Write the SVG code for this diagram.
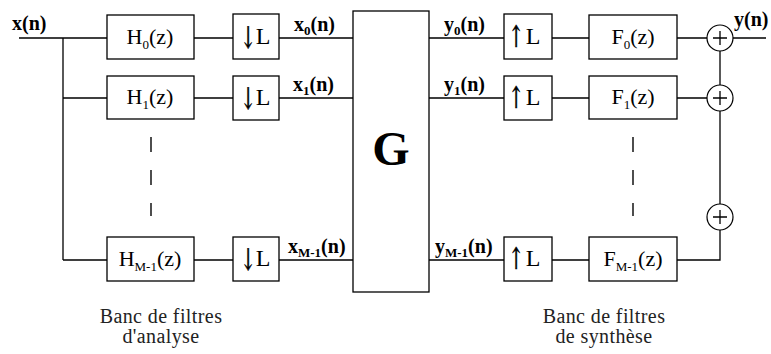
<svg xmlns="http://www.w3.org/2000/svg" width="771" height="354" viewBox="0 0 771 354">
<style>
.box{fill:#fff;stroke:#000;stroke-width:1.3}
.ln{fill:none;stroke:#000;stroke-width:1.3}
.dash{fill:none;stroke:#222;stroke-width:1.6;stroke-dasharray:15 18}
.sum{fill:#fff;stroke:#000;stroke-width:1.2}
.t{font-size:22px;fill:#000}
.L{font-size:24px;fill:#000}
.b{font-size:20px;font-weight:bold;fill:#000}
.s{font-size:13px}
.cap{font-size:20px;fill:#222;letter-spacing:0.4px}
.g{font-size:48px;font-weight:bold}
.arr{font-family:'DejaVu Serif','DejaVu Sans',serif;font-size:30px;fill:#000;stroke:#000;stroke-width:0.6}
</style>
<rect width="771" height="354" fill="#fff"/>
<g id="connectors">
<path class="ln" d="M19 38H107M63 38V260M63 98H107M63 260H107"/>
<path class="ln" d="M194 38H233M194 98H233M194 260H233"/>
<path class="ln" d="M279 38H353M279 98H353M279 260H353"/>
<path class="ln" d="M429 38H504M429 98H504M429 260H504"/>
<path class="ln" d="M552 38H589M552 98H589M552 260H589"/>
<path class="ln" d="M677 38H707M677 98H707M677 260H720V230"/>
<path class="ln" d="M720 51V85M720 111V204M733 38H766"/>
<path class="dash" d="M151 137V216"/>
<path class="dash" d="M633 137V216"/>
</g>
<g font-family="Liberation Serif, Times New Roman, serif">
<g id="label_x"><text class="b" x="12" y="30">x(n)</text></g>
<g id="H0"><rect class="box" x="107" y="15" width="87" height="44"/><text class="t" x="150" y="44" text-anchor="middle">H<tspan class="s" dy="5">0</tspan><tspan dy="-5">(z)</tspan></text></g>
<g id="H1"><rect class="box" x="107" y="76" width="87" height="43"/><text class="t" x="150" y="104" text-anchor="middle">H<tspan class="s" dy="5">1</tspan><tspan dy="-5">(z)</tspan></text></g>
<g id="HM1"><rect class="box" x="107" y="237" width="87" height="44"/><text class="t" x="150" y="266" text-anchor="middle">H<tspan class="s" dy="5">M-1</tspan><tspan dy="-5">(z)</tspan></text></g>
<g id="D0"><rect class="box" x="233" y="14" width="46" height="45"/><text class="arr" transform="translate(248,48) scale(0.6,1)" text-anchor="middle">↓</text><text class="L" x="263" y="44" text-anchor="middle">L</text></g>
<g id="D1"><rect class="box" x="233" y="76" width="46" height="44"/><text class="arr" transform="translate(248,109) scale(0.6,1)" text-anchor="middle">↓</text><text class="L" x="263" y="105" text-anchor="middle">L</text></g>
<g id="DM1"><rect class="box" x="233" y="237" width="46" height="44"/><text class="arr" transform="translate(248,270) scale(0.6,1)" text-anchor="middle">↓</text><text class="L" x="263" y="266" text-anchor="middle">L</text></g>
<g id="lx0"><text class="b" x="294" y="31">x<tspan class="s" dy="4">0</tspan><tspan dy="-4">(n)</tspan></text></g>
<g id="lx1"><text class="b" x="293" y="91">x<tspan class="s" dy="4">1</tspan><tspan dy="-4">(n)</tspan></text></g>
<g id="lxM1"><text class="b" x="288" y="253">x<tspan class="s" dy="4">M-1</tspan><tspan dy="-4">(n)</tspan></text></g>
<g id="G"><rect class="box" x="353" y="11" width="76" height="281"/><text class="g" x="391" y="165" text-anchor="middle">G</text></g>
<g id="ly0"><text class="b" x="444" y="31">y<tspan class="s" dy="4">0</tspan><tspan dy="-4">(n)</tspan></text></g>
<g id="ly1"><text class="b" x="444" y="91">y<tspan class="s" dy="4">1</tspan><tspan dy="-4">(n)</tspan></text></g>
<g id="lyM1"><text class="b" x="435" y="253">y<tspan class="s" dy="4">M-1</tspan><tspan dy="-4">(n)</tspan></text></g>
<g id="U0"><rect class="box" x="504" y="14" width="48" height="45"/><text class="arr" transform="translate(516,47) scale(0.6,1)" text-anchor="middle">↑</text><text class="L" x="533" y="44" text-anchor="middle">L</text></g>
<g id="U1"><rect class="box" x="504" y="76" width="48" height="44"/><text class="arr" transform="translate(516,108) scale(0.6,1)" text-anchor="middle">↑</text><text class="L" x="533" y="105" text-anchor="middle">L</text></g>
<g id="UM1"><rect class="box" x="504" y="237" width="48" height="44"/><text class="arr" transform="translate(516,269) scale(0.6,1)" text-anchor="middle">↑</text><text class="L" x="533" y="266" text-anchor="middle">L</text></g>
<g id="F0"><rect class="box" x="589" y="15" width="88" height="44"/><text class="t" x="633" y="44" text-anchor="middle">F<tspan class="s" dy="5">0</tspan><tspan dy="-5">(z)</tspan></text></g>
<g id="F1"><rect class="box" x="589" y="76" width="88" height="43"/><text class="t" x="633" y="104" text-anchor="middle">F<tspan class="s" dy="5">1</tspan><tspan dy="-5">(z)</tspan></text></g>
<g id="FM1"><rect class="box" x="589" y="237" width="88" height="44"/><text class="t" x="633" y="266" text-anchor="middle">F<tspan class="s" dy="5">M-1</tspan><tspan dy="-5">(z)</tspan></text></g>
<g id="S0"><circle class="sum" cx="720" cy="38" r="13"/><path class="ln" d="M713 38H727M720 31V45"/></g>
<g id="S1"><circle class="sum" cx="720" cy="98" r="13"/><path class="ln" d="M713 98H727M720 91V105"/></g>
<g id="S2"><circle class="sum" cx="720" cy="217" r="13"/><path class="ln" d="M713 217H727M720 210V224"/></g>
<g id="ly"><text class="b" x="734" y="26">y(n)</text></g>
<g id="cap1"><text class="cap" x="161" y="323" text-anchor="middle">Banc de filtres</text><text class="cap" x="161" y="343" text-anchor="middle">d'analyse</text></g>
<g id="cap2"><text class="cap" x="604" y="323" text-anchor="middle">Banc de filtres</text><text class="cap" x="604" y="343" text-anchor="middle">de synthèse</text></g>
</g>
</svg>
